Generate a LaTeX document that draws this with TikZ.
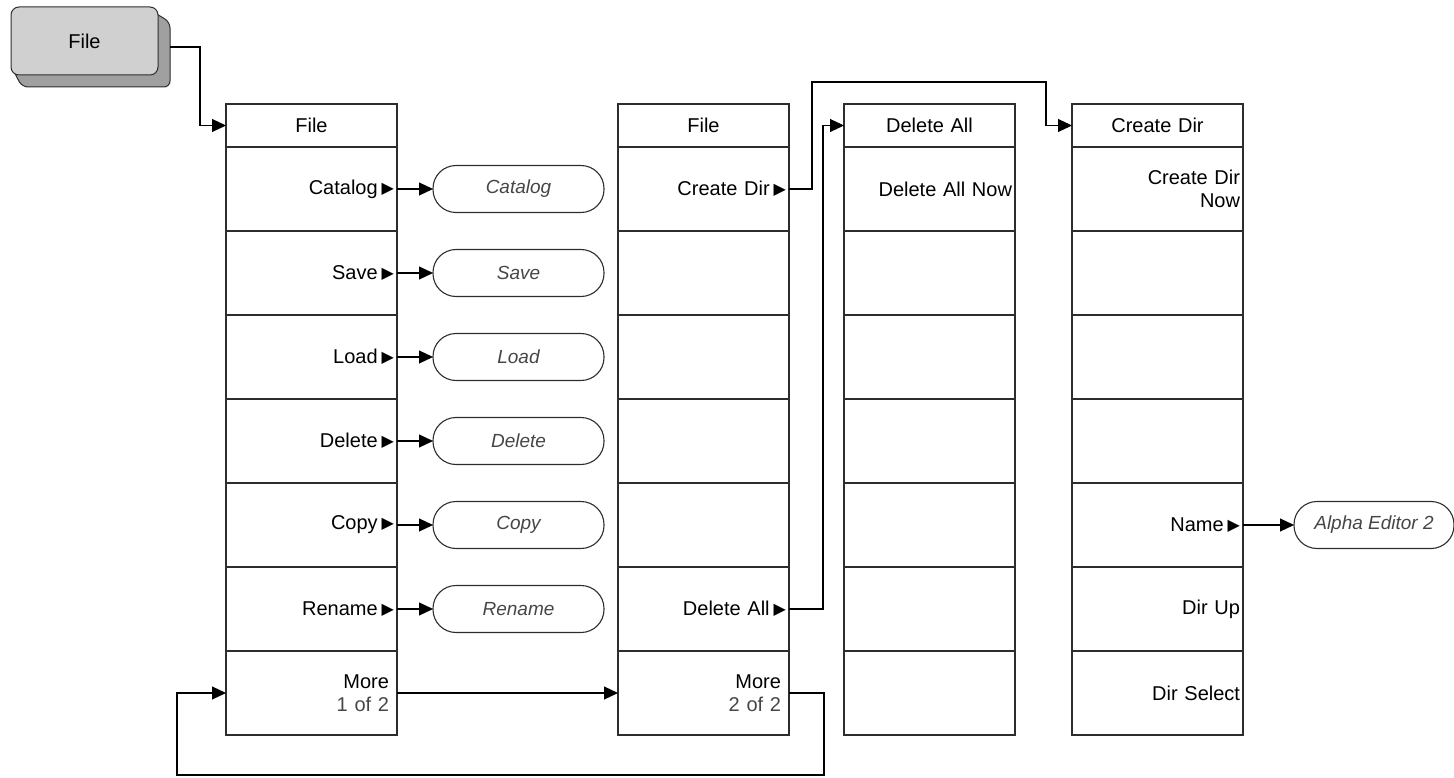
\documentclass[tikz,border=0pt]{standalone}
\usepackage{fontspec}
\setmainfont{Liberation Sans}
\newfontfamily\glyphfont{DejaVu Sans}
\usepackage{tikz}
\usetikzlibrary{arrows.meta, positioning}
\definecolor{keygray}{RGB}{208, 208, 208}
\definecolor{shadegray}{RGB}{160, 160, 160}
\definecolor{edgegray}{RGB}{45, 45, 45}
\definecolor{formgray}{RGB}{70, 70, 70}
\newcommand{\submenu}{\hspace*{4pt}\raisebox{1pt}{\glyphfont\fontsize{16}{16}\selectfont ▶}}
\tikzset{
  menuhead/.style={draw=edgegray, line width=1.1pt, outer sep=0pt, minimum height=43pt,
                   text width=165pt, inner xsep=3pt, align=center, font=\fontsize{20}{24}\selectfont},
  menukey/.style={draw=edgegray, line width=1.1pt, outer sep=0pt, minimum height=84pt,
                  text width=165pt, inner xsep=3pt, align=right, font=\fontsize{20}{23}\selectfont},
  formbox/.style={draw=edgegray, line width=1.1pt, rounded corners=23pt, outer sep=0pt,
                  minimum width=171pt, minimum height=47pt, text=formgray,
                  font=\fontsize{19}{23}\selectfont\itshape},
  link/.style={draw=black, line width=1.1pt, -{Triangle[length=14pt,width=13pt]}},
  wire/.style={draw=black, line width=1.1pt}
}

\begin{document}
\begin{tikzpicture}[x=1pt, y=-1pt]
            \useasboundingbox (0,0) rectangle (1454,778);
            % hard key
            \fill[shadegray, draw=edgegray, line width=1pt, rounded corners=6pt]
                (145,7) -- (170,22) -- (170,87) -- (22,87) -- (11,66) -- cycle;
            \node[draw=edgegray, fill=keygray, line width=1pt, rounded corners=8pt,
                  minimum width=147pt, minimum height=68pt,
                  font=\fontsize{20}{24}\selectfont] (filekey) at (84.5,41) {File};
            \coordinate (fileout) at (170,47);

            % menu 1
            \node[menuhead, anchor=north west] (h1) at (226,104) {File};
            \node[menukey, below=0pt of h1] (c1r1) {Catalog\submenu};
            \node[menukey, below=0pt of c1r1] (c1r2) {Save\submenu};
            \node[menukey, below=0pt of c1r2] (c1r3) {Load\submenu};
            \node[menukey, below=0pt of c1r3] (c1r4) {Delete\submenu};
            \node[menukey, below=0pt of c1r4] (c1r5) {Copy\submenu};
            \node[menukey, below=0pt of c1r5] (c1r6) {Rename\submenu};
            \node[menukey, below=0pt of c1r6] (c1r7) {\mbox{More\hspace{5pt}}\\\mbox{\textcolor{formgray}{1 of 2}\hspace{5pt}}};

            % forms
            \node[formbox, right=36pt of c1r1] (catform) {Catalog};
            \node[formbox, right=36pt of c1r2] (saveform) {Save};
            \node[formbox, right=36pt of c1r3] (loadform) {Load};
            \node[formbox, right=36pt of c1r4] (delform) {Delete};
            \node[formbox, right=36pt of c1r5] (copyform) {Copy};
            \node[formbox, right=36pt of c1r6] (renform) {Rename};

            % menu 2
            \node[menuhead, anchor=north west] (h2) at (618,104) {File};
            \node[menukey, below=0pt of h2] (c2r1) {Create Dir\submenu};
            \node[menukey, below=0pt of c2r1] (c2r2) {};
            \node[menukey, below=0pt of c2r2] (c2r3) {};
            \node[menukey, below=0pt of c2r3] (c2r4) {};
            \node[menukey, below=0pt of c2r4] (c2r5) {};
            \node[menukey, below=0pt of c2r5] (c2r6) {Delete All\submenu};
            \node[menukey, below=0pt of c2r6] (c2r7) {\mbox{More\hspace{5pt}}\\\mbox{\textcolor{formgray}{2 of 2}\hspace{5pt}}};

            % menu 3
            \node[menuhead, anchor=north west] (h3) at (844,104) {Delete All};
            \node[menukey, below=0pt of h3] (c3r1) {Delete All Now};
            \node[menukey, below=0pt of c3r1] (c3r2) {};
            \node[menukey, below=0pt of c3r2] (c3r3) {};
            \node[menukey, below=0pt of c3r3] (c3r4) {};
            \node[menukey, below=0pt of c3r4] (c3r5) {};
            \node[menukey, below=0pt of c3r5] (c3r6) {};
            \node[menukey, below=0pt of c3r6] (c3r7) {};

            % menu 4
            \node[menuhead, anchor=north west] (h4) at (1072,104) {Create Dir};
            \node[menukey, below=0pt of h4] (c4r1) {Create Dir\\Now};
            \node[menukey, below=0pt of c4r1] (c4r2) {};
            \node[menukey, below=0pt of c4r2] (c4r3) {};
            \node[menukey, below=0pt of c4r3] (c4r4) {};
            \node[menukey, below=0pt of c4r4] (c4r5) {Name\submenu};
            \node[menukey, below=0pt of c4r5] (c4r6) {Dir Up};
            \node[menukey, below=0pt of c4r6] (c4r7) {Dir Select};
            \node[formbox, minimum width=160pt, right=51pt of c4r5] (alphaform) {Alpha Editor 2};

            % connectors
            \coordinate (cdtop) at (1046,82);
            \coordinate (loopbot) at (177,775);
            \draw[link] (fileout) -- ++(30,0) |- (h1.west);
            \draw[link] (c1r1.east) -- (catform.west);
            \draw[link] (c1r2.east) -- (saveform.west);
            \draw[link] (c1r3.east) -- (loadform.west);
            \draw[link] (c1r4.east) -- (delform.west);
            \draw[link] (c1r5.east) -- (copyform.west);
            \draw[link] (c1r6.east) -- (renform.west);
            \draw[link] (c1r7.east) -- (c2r7.west);
            \draw[link] (c2r7.east) -- ++(35,0) |- (loopbot) |- (c1r7.west);
            \draw[link] (c2r1.east) -- ++(23,0) |- (cdtop) |- (h4.west);
            \draw[link] (c2r6.east) -- ++(34,0) |- (h3.west);
            \draw[link] (c4r5.east) -- (alphaform.west);
        \end{tikzpicture}
\end{document}
